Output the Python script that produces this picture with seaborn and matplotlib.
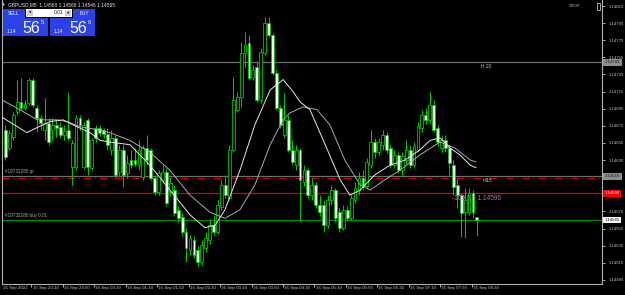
import matplotlib
matplotlib.use("Agg")
import matplotlib.pyplot as plt
import seaborn as sns
import numpy as np
import pandas as pd
from matplotlib.patches import Rectangle

# ---------------- data (GBPUSD M5, 15 Sep 22:30 .. 16 Sep 08:30) ----------------
time_labels = ["15 Sep 2022", "15 Sep 23:10", "15 Sep 23:50", "16 Sep 00:30", "16 Sep 01:10",
               "16 Sep 01:50", "16 Sep 02:30", "16 Sep 03:10", "16 Sep 03:50", "16 Sep 04:30",
               "16 Sep 05:10", "16 Sep 05:50", "16 Sep 06:30", "16 Sep 07:10", "16 Sep 07:50",
               "16 Sep 08:30"]
time_label_bars = [0, 8, 16, 24, 32, 40, 48, 56, 64, 72, 80, 88, 96, 104, 112, 120]

open_ = [1.14670, 1.14649, 1.14662, 1.14691, 1.14703, 1.14696, 1.14702, 1.14729, 1.14696, 1.14684,
         1.14670, 1.14678, 1.14670, 1.14676, 1.14674, 1.14664, 1.14670, 1.14627, 1.14627, 1.14684,
         1.14627, 1.14682, 1.14626, 1.14673, 1.14673, 1.14670, 1.14665, 1.14647, 1.14661, 1.14621,
         1.14647, 1.14620, 1.14635, 1.14635, 1.14629, 1.14615, 1.14649, 1.14647, 1.14614, 1.14598,
         1.14612, 1.14621, 1.14598, 1.14600, 1.14577, 1.14569, 1.14551, 1.14530, 1.14542, 1.14530,
         1.14516, 1.14532, 1.14542, 1.14559, 1.14551, 1.14580, 1.14606, 1.14591, 1.14647, 1.14694,
         1.14709, 1.14760, 1.14772, 1.14732, 1.14744, 1.14705, 1.14760, 1.14795, 1.14781, 1.14737,
         1.14696, 1.14664, 1.14682, 1.14647, 1.14629, 1.14647, 1.14609, 1.14623, 1.14594, 1.14606,
         1.14583, 1.14583, 1.14559, 1.14588, 1.14600, 1.14574, 1.14556, 1.14577, 1.14567, 1.14588,
         1.14600, 1.14614, 1.14605, 1.14629, 1.14656, 1.14644, 1.14653, 1.14664, 1.14649, 1.14629,
         1.14641, 1.14623, 1.14635, 1.14647, 1.14629, 1.14647, 1.14673, 1.14688, 1.14682, 1.14699,
         1.14673, 1.14649, 1.14658, 1.14649, 1.14629, 1.14606, 1.14594, 1.14574, 1.14574, 1.14597,
         1.14568]
high = [1.14676, 1.14670, 1.14691, 1.14729, 1.14731, 1.14705, 1.14731, 1.14731, 1.14699, 1.14688,
        1.14708, 1.14684, 1.14684, 1.14682, 1.14680, 1.14676, 1.14715, 1.14658, 1.14688, 1.14688,
        1.14680, 1.14684, 1.14661, 1.14676, 1.14676, 1.14673, 1.14673, 1.14670, 1.14664, 1.14653,
        1.14653, 1.14641, 1.14647, 1.14649, 1.14658, 1.14653, 1.14664, 1.14649, 1.14618, 1.14623,
        1.14629, 1.14626, 1.14614, 1.14606, 1.14581, 1.14573, 1.14556, 1.14548, 1.14546, 1.14535,
        1.14542, 1.14551, 1.14565, 1.14571, 1.14588, 1.14612, 1.14618, 1.14653, 1.14732, 1.14715,
        1.14773, 1.14785, 1.14781, 1.14746, 1.14750, 1.14766, 1.14802, 1.14802, 1.14783, 1.14740,
        1.14699, 1.14713, 1.14688, 1.14658, 1.14653, 1.14649, 1.14629, 1.14626, 1.14614, 1.14609,
        1.14594, 1.14588, 1.14594, 1.14606, 1.14602, 1.14579, 1.14583, 1.14581, 1.14594, 1.14609,
        1.14621, 1.14623, 1.14637, 1.14670, 1.14661, 1.14661, 1.14670, 1.14668, 1.14653, 1.14647,
        1.14644, 1.14644, 1.14658, 1.14653, 1.14656, 1.14680, 1.14694, 1.14696, 1.14715, 1.14705,
        1.14676, 1.14664, 1.14664, 1.14653, 1.14635, 1.14614, 1.14597, 1.14602, 1.14602, 1.14600,
        1.14568]
low = [1.14635, 1.14647, 1.14658, 1.14688, 1.14694, 1.14694, 1.14699, 1.14697, 1.14668, 1.14670,
       1.14658, 1.14653, 1.14658, 1.14662, 1.14661, 1.14658, 1.14658, 1.14606, 1.14623, 1.14670,
       1.14625, 1.14618, 1.14623, 1.14656, 1.14663, 1.14661, 1.14647, 1.14641, 1.14614, 1.14616,
       1.14604, 1.14614, 1.14626, 1.14628, 1.14623, 1.14612, 1.14629, 1.14612, 1.14594, 1.14594,
       1.14608, 1.14581, 1.14593, 1.14570, 1.14563, 1.14546, 1.14516, 1.14524, 1.14521, 1.14511,
       1.14512, 1.14528, 1.14537, 1.14548, 1.14549, 1.14577, 1.14591, 1.14588, 1.14644, 1.14691,
       1.14697, 1.14744, 1.14729, 1.14729, 1.14703, 1.14702, 1.14758, 1.14779, 1.14734, 1.14694,
       1.14673, 1.14661, 1.14644, 1.14629, 1.14623, 1.14565, 1.14605, 1.14591, 1.14588, 1.14579,
       1.14570, 1.14551, 1.14556, 1.14583, 1.14563, 1.14551, 1.14553, 1.14564, 1.14565, 1.14585,
       1.14594, 1.14600, 1.14602, 1.14626, 1.14637, 1.14641, 1.14647, 1.14643, 1.14626, 1.14626,
       1.14620, 1.14618, 1.14630, 1.14626, 1.14626, 1.14644, 1.14668, 1.14677, 1.14678, 1.14668,
       1.14651, 1.14644, 1.14644, 1.14618, 1.14594, 1.14579, 1.14545, 1.14544, 1.14571, 1.14567,
       1.14546]
close = [1.14639, 1.14667, 1.14688, 1.14703, 1.14696, 1.14701, 1.14729, 1.14699, 1.14684, 1.14678,
         1.14678, 1.14656, 1.14676, 1.14673, 1.14664, 1.14669, 1.14661, 1.14655, 1.14684, 1.14676,
         1.14676, 1.14627, 1.14658, 1.14661, 1.14667, 1.14665, 1.14653, 1.14661, 1.14618, 1.14647,
         1.14618, 1.14632, 1.14629, 1.14630, 1.14647, 1.14649, 1.14635, 1.14614, 1.14598, 1.14620,
         1.14621, 1.14585, 1.14608, 1.14573, 1.14567, 1.14551, 1.14532, 1.14544, 1.14524, 1.14516,
         1.14536, 1.14544, 1.14559, 1.14551, 1.14583, 1.14606, 1.14594, 1.14647, 1.14705, 1.14709,
         1.14760, 1.14769, 1.14731, 1.14740, 1.14705, 1.14761, 1.14795, 1.14781, 1.14737, 1.14696,
         1.14676, 1.14682, 1.14647, 1.14633, 1.14647, 1.14612, 1.14623, 1.14594, 1.14606, 1.14583,
         1.14574, 1.14559, 1.14588, 1.14600, 1.14567, 1.14556, 1.14577, 1.14567, 1.14591, 1.14602,
         1.14614, 1.14605, 1.14633, 1.14656, 1.14644, 1.14656, 1.14664, 1.14647, 1.14629, 1.14641,
         1.14623, 1.14640, 1.14647, 1.14629, 1.14651, 1.14675, 1.14688, 1.14682, 1.14699, 1.14670,
         1.14656, 1.14658, 1.14649, 1.14632, 1.14604, 1.14594, 1.14573, 1.14588, 1.14597, 1.14574,
         1.14565]

ma_fast_bar = [-0.8, 5.5, 8.1, 11.4, 14.7, 18.2, 21.6, 24.1, 26.6, 31.7, 36.8, 41.9, 47.0, 50.8,
               53.4, 55.9, 59.7, 63.5, 67.4, 70.7, 73.2, 75.0, 77.5, 81.4, 85.2, 87.7, 90.3, 94.1,
               97.9, 101.7, 105.5, 108.1, 110.6, 113.2, 115.7, 118.3, 119.8]
ma_fast = [1.14685, 1.14667, 1.14673, 1.14680, 1.14682, 1.14674, 1.14667, 1.14658, 1.14656, 1.14653,
           1.14629, 1.14600, 1.14571, 1.14556, 1.14559, 1.14577, 1.14623, 1.14676, 1.14717, 1.14729,
           1.14715, 1.14703, 1.14694, 1.14653, 1.14612, 1.14594, 1.14600, 1.14618, 1.14629, 1.14635,
           1.14647, 1.14658, 1.14661, 1.14649, 1.14641, 1.14629, 1.14626]
ma_slow_bar = [-0.8, 3.7, 8.1, 13.2, 15.7, 19.0, 24.1, 26.6, 31.7, 36.8, 41.9, 47.0, 52.1, 55.9,
               59.7, 63.5, 67.4, 70.7, 72.4, 75.7, 79.3, 82.6, 86.4, 90.3, 92.8, 96.6, 100.4, 105.5,
               110.6, 114.4, 118.3, 119.8]
ma_slow = [1.14705, 1.14694, 1.14682, 1.14682, 1.14680, 1.14674, 1.14670, 1.14667, 1.14658, 1.14644,
           1.14623, 1.14594, 1.14574, 1.14567, 1.14577, 1.14606, 1.14653, 1.14682, 1.14690, 1.14697,
           1.14694, 1.14676, 1.14635, 1.14606, 1.14600, 1.14612, 1.14623, 1.14641, 1.14656, 1.14649,
           1.14635, 1.14633]

y_ticks = [1.14815, 1.14795, 1.14775, 1.14755, 1.14735, 1.14715, 1.14695, 1.14675, 1.14655,
           1.14635, 1.14615, 1.14595, 1.14575, 1.14555, 1.14535, 1.14515, 1.14495]
y_ticks_hidden = [1.14615, 1.14595]   # covered by the price boxes in the terminal

level_h20 = 1.14749
level_m15 = 1.14616
level_tp = 1.14614
level_red = 1.14596
level_buy = 1.14565
bid = 1.14565

# ---------------- style ----------------
sns.set_theme(style="dark")
plt.rcParams["font.family"] = ["Liberation Sans", "DejaVu Sans"]
FS = 3.05

W, H = 625, 295
fig = plt.figure(figsize=(W / 100, H / 100), dpi=100, facecolor="black")

AX_L, AX_R, AX_T, AX_B = 2, 602, 0, 284
ax = fig.add_axes([AX_L / W, 1 - AX_B / H, (AX_R - AX_L) / W, (AX_B - AX_T) / H])
ax.set_facecolor("black")

px_per_bar = 3.93
first_x = 5.3
x_left = -(first_x - AX_L) / px_per_bar
x_right = x_left + (AX_R - AX_L) / px_per_bar
ax.set_xlim(x_left, x_right)
y_top = 1.14815 + 6 / 85600
y_bot = 1.14815 - 278 / 85600
ax.set_ylim(y_bot, y_top)

green = "#00c400"
df = pd.DataFrame({"bar": np.arange(len(close)), "open": open_, "high": high, "low": low,
                   "close": close})

ax.vlines(df["bar"], df["low"], df["high"], color=green, linewidth=0.75, zorder=3)
bull = df["close"] >= df["open"]
bottom = np.minimum(df["open"], df["close"])
height = np.maximum(np.abs(df["close"] - df["open"]), 0.000012)
ax.bar(df["bar"][bull], height[bull], bottom=bottom[bull], width=0.72,
       color="black", edgecolor=green, linewidth=0.6, zorder=4)
ax.bar(df["bar"][~bull], height[~bull], bottom=bottom[~bull], width=0.72,
       color="#f2fff2", edgecolor=green, linewidth=0.6, zorder=4)

sns.lineplot(x=ma_slow_bar, y=ma_slow, ax=ax, color="#a8a8a8", linewidth=0.7, zorder=5)
sns.lineplot(x=ma_fast_bar, y=ma_fast, ax=ax, color="#e6e6e6", linewidth=0.7, zorder=5)

ax.axhline(level_h20, color="#6e6e6e", linewidth=0.9, zorder=2)
ax.axhline(level_m15, color="#6e6e6e", linewidth=0.9, zorder=2)
ax.axhline(level_tp, color="#d00000", linewidth=0.9, linestyle=(0, (6, 3, 1, 3)), zorder=2)
ax.axhline(level_red, color="#e00000", linewidth=0.9, zorder=2)
ax.axhline(level_buy, color="#009000", linewidth=0.9, zorder=2)

ax.spines["top"].set_visible(False)
for s in ["left", "bottom", "right"]:
    ax.spines[s].set_color("#b0b0b0")
    ax.spines[s].set_linewidth(0.8)
ax.grid(False)
ax.yaxis.tick_right()
ax.set_yticks(y_ticks)
ax.set_yticklabels(["" if v in y_ticks_hidden else f"{v:.5f}" for v in y_ticks])
ax.tick_params(axis="y", colors="#c8c8c8", labelsize=FS, length=2, width=0.6, pad=2.5,
               left=False, right=True)
tick_off = 1.35
ax.set_xticks([b - tick_off for b in time_label_bars[1:]])
ax.set_xticklabels([])
ax.tick_params(axis="x", colors="#c8c8c8", length=2.5, width=0.6, bottom=True)
for k, (b, lab) in enumerate(zip(time_label_bars, time_labels)):
    xpos = b - tick_off + 0.3 if k > 0 else x_left + 0.15
    ax.text(xpos, -0.008, lab, transform=ax.get_xaxis_transform(), ha="left", va="top",
            fontsize=FS + 0.1, color="#c8c8c8", clip_on=False)


def fx(x):
    return x / W


def fy(y):
    return 1 - y / H


def price_box(price, txt, fc, tc):
    ax.text(1.0045, price, txt, transform=ax.get_yaxis_transform(), ha="left", va="center",
            fontsize=FS, color=tc, zorder=10, clip_on=False,
            bbox=dict(boxstyle="square,pad=0.35", fc=fc, ec=fc, lw=0))


price_box(level_h20, "1.14749", "#8c8c8c", "#1a1a1a")
price_box(level_m15, "1.14616", "#8c8c8c", "#1a1a1a")
price_box(level_red, "1.14596", "#ff0000", "#ffffff")
price_box(bid, "1.14565", "#ffffff", "#000000")

fig.text(fx(5), fy(174.5), "#19732280 tp", fontsize=FS + 0.3, color="#a8a8a8", va="bottom",
         ha="left", zorder=12)
fig.text(fx(5), fy(217.5), "#19732280 buy 0.01", fontsize=FS + 0.3, color="#a8a8a8",
         va="bottom", ha="left", zorder=12)
fig.text(fx(481), fy(66), "H 20", fontsize=FS + 0.6, color="#c0c0c0", va="center", ha="left",
         zorder=12)
fig.text(fx(483), fy(180), "m15", fontsize=FS + 0.6, color="#c0c0c0", va="center", ha="left",
         zorder=12)
fig.text(fx(452), fy(198), "-100.0 = 1.14596", fontsize=4.7, color="#b070b8", va="center",
         ha="left", zorder=12)
fig.text(fx(569), fy(6), "STOP", fontsize=FS, color="#c0c0c0", va="center", ha="left")
fig.patches.append(Rectangle((fx(597), fy(10)), 3 / W, 7 / H, transform=fig.transFigure,
                             fill=False, ec="#c0c0c0", lw=0.6))

fig.text(fx(2), fy(5), "\u25b2", fontsize=2.6, color="#c0c0c0", va="center", ha="left",
         family="DejaVu Sans")
fig.text(fx(8), fy(5), "GBPUSD,M5  1.14568 1.14568 1.14546 1.14565", fontsize=FS + 0.45,
         color="#e6e6e6", va="center", ha="left")

blue = "#2a42e8"


def rect(x0, y0, x1, y1, fc, ec=None, lw=0):
    fig.patches.append(Rectangle((fx(x0), fy(y1)), (x1 - x0) / W, (y1 - y0) / H,
                                 transform=fig.transFigure, fc=fc, ec=ec if ec else fc, lw=lw,
                                 zorder=20))


rect(3, 9, 25, 18, blue)
rect(73, 9, 95, 18, blue)
rect(26, 9, 72, 17, "#ffffff")
rect(27, 10, 33, 16, "#d0d0d0")
rect(65, 10, 71, 16, "#d0d0d0")
rect(3, 18, 48, 36, blue)
rect(50, 18, 95, 36, blue)
fig.text(fx(14), fy(13.5), "SELL", fontsize=FS + 0.3, color="white", ha="center", va="center",
         zorder=21)
fig.text(fx(84), fy(13.5), "BUY", fontsize=FS + 0.3, color="white", ha="center", va="center",
         zorder=21)
fig.text(fx(30), fy(13), "\u25bc", fontsize=2.3, color="#202020", ha="center", va="center",
         zorder=21, family="DejaVu Sans")
fig.text(fx(68), fy(13), "\u25b2", fontsize=2.3, color="#202020", ha="center", va="center",
         zorder=21, family="DejaVu Sans")
fig.text(fx(63), fy(13), "0.01", fontsize=FS + 0.5, color="#101010", ha="right", va="center",
         zorder=21)
for x0, sup in [(3, "5"), (50, "6")]:
    fig.text(fx(x0 + 4), fy(31.5), "1.14", fontsize=FS + 0.5, color="white", ha="left",
             va="center", zorder=21)
    fig.text(fx(x0 + 19.5), fy(28.5), "56", fontsize=11.5, color="white", ha="left",
             va="center", zorder=21)
    fig.text(fx(x0 + 38), fy(22), sup, fontsize=FS + 1, color="white", ha="left", va="center",
             zorder=21)

fig.savefig("out.png", dpi=100, facecolor="black")
